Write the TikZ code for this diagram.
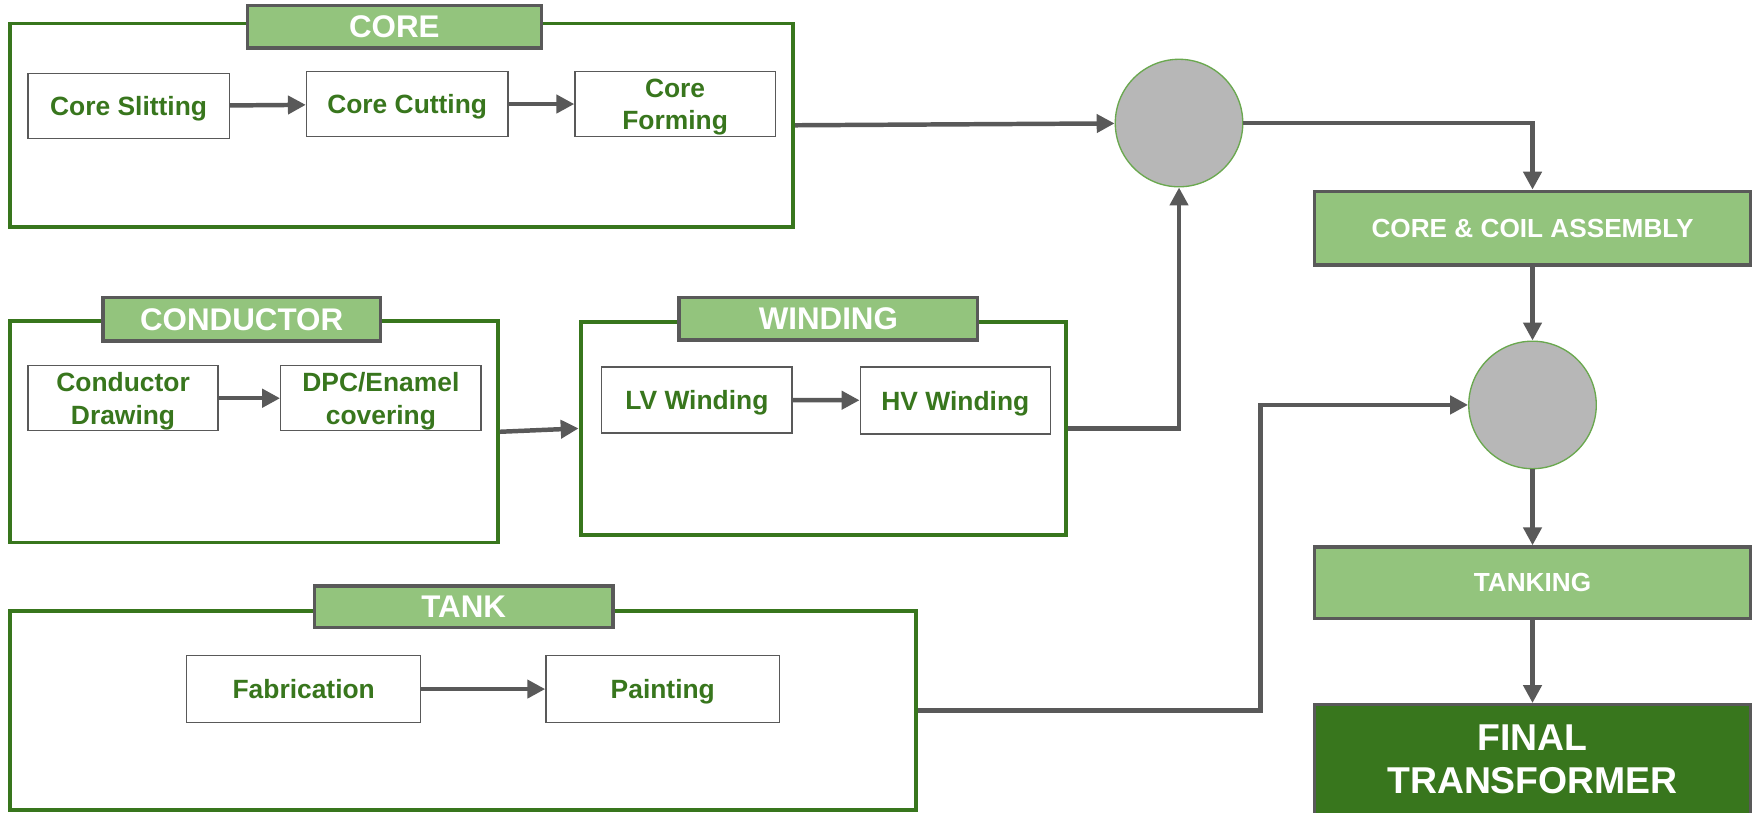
\documentclass[tikz,border=0pt]{standalone}
\usepackage{fontspec}
\setmainfont{Liberation Sans}
\usetikzlibrary{arrows.meta, positioning}
\usepackage{xcolor}
\definecolor{framegreen}{RGB}{56, 118, 29}
\definecolor{titlegreen}{RGB}{147, 196, 125}
\definecolor{linegrey}{RGB}{89, 89, 89}
\definecolor{jointgrey}{RGB}{183, 183, 183}
\definecolor{jointedge}{RGB}{106, 168, 79}

\begin{document}
\begin{tikzpicture}[
    x=0.5pt, y=-0.5pt,
    % 外框样式
    stage/.style={
        rectangle, draw=framegreen, line width=1.75pt, fill=white,
        inner sep=0pt
    },
    % 标题样式
    stagetitle/.style={
        rectangle, draw=linegrey, line width=1.5pt, fill=titlegreen,
        inner sep=0pt, text=white,
        font=\bfseries\fontsize{14}{16}\selectfont
    },
    % 工序样式
    task/.style={
        rectangle, draw=linegrey, line width=0.6pt, fill=white,
        inner sep=0pt, align=center, text=framegreen, text depth=0pt,
        font=\bfseries\fontsize{11.8}{14.5}\selectfont
    },
    % 装配样式
    mainstep/.style={
        rectangle, draw=linegrey, line width=1.5pt, fill=titlegreen,
        minimum width=195pt, minimum height=33pt, inner sep=0pt,
        align=center, text=white,
        font=\bfseries\fontsize{11.7}{14}\selectfont
    },
    % 汇合点
    joint/.style={
        circle, draw=jointedge, line width=0.6pt, fill=jointgrey,
        minimum size=57pt, inner sep=0pt
    },
    % 箭头样式
    arrow/.style={-{Triangle[length=8pt, width=8pt]}, line width=2pt, linegrey},
]

\useasboundingbox (0,0) rectangle (1568,726);

% ==================== 外框 ====================
\node[stage, minimum width=350pt, minimum height=91pt] (coreframe) at (359,112) {};
\node[stage, minimum width=218pt, minimum height=99pt] (condframe) at (227,386) {};
\node[stage, minimum width=217pt, minimum height=95pt] (windframe) at (736,383) {};
\node[stage, minimum width=405pt, minimum height=89pt] (tankframe) at (414,635) {};

% ==================== 标题 ====================
\node[stagetitle, minimum width=131.5pt, minimum height=19pt] (coretitle) at (352.5,24) {CORE};
\node[stagetitle, minimum width=124pt, minimum height=19.5pt] (condtitle) at (216,285.5) {CONDUCTOR};
\node[stagetitle, minimum width=133.5pt, minimum height=19pt] (windtitle) at (740.5,285) {WINDING};
\node[stagetitle, minimum width=133.5pt, minimum height=18.5pt] (tanktitle) at (414.5,542.5) {TANK};

% ==================== 工序 ====================
\node[task, minimum width=90pt, minimum height=29pt] (slitting) at (115,95) {Core Slitting};
\node[task, minimum width=90pt, minimum height=29pt] (cutting) at (364,93) {Core Cutting};
\node[task, minimum width=89.5pt, minimum height=29pt] (forming) at (603.5,93) {Core\\Forming};

\node[task, minimum width=85pt, minimum height=29pt] (drawing) at (110,356) {Conductor\\Drawing};
\node[task, minimum width=89.5pt, minimum height=29pt] (covering) at (340.5,356) {DPC/Enamel\\covering};

\node[task, minimum width=85pt, minimum height=29.5pt] (lv) at (623,357.5) {LV Winding};
\node[task, minimum width=85pt, minimum height=30pt] (hv) at (854,358) {HV Winding};

\node[task, minimum width=104.5pt, minimum height=30pt] (fabrication) at (271.5,616) {Fabrication};
\node[task, minimum width=104.5pt, minimum height=30pt] (painting) at (592.5,616) {Painting};

% ==================== 装配 ====================
\node[joint] (join1) at (1054,110) {};
\node[joint] (join2) at (1370,362) {};

\node[mainstep] (assembly) at (1370,204) {CORE \& COIL ASSEMBLY};
\node[mainstep, minimum height=32pt] (tanking) at (1370,521) {TANKING};
\node[mainstep, fill=framegreen, minimum height=49pt,
      font=\bfseries\fontsize{16.7}{19}\selectfont] (final) at (1370,679) {FINAL\\TRANSFORMER};

% ==================== 箭头 ====================
\draw[arrow] (slitting) -- (cutting);
\draw[arrow] (cutting) -- (forming);
\draw[arrow] (drawing) -- (covering);
\draw[arrow] (lv) -- (hv);
\draw[arrow] (fabrication) -- (painting);

\draw[arrow] (coreframe.east) -- (join1);
\draw[arrow] (condframe.east) -- (windframe.west);
\draw[arrow] (windframe.east) -| (join1.south);
\draw[arrow] (join1.east) -| (assembly.north);
\draw[arrow] (assembly) -- (join2);

% 油箱汇入
\coordinate (tankbend) at (1127,635);
\draw[arrow] (tankframe.east) -- (tankbend) |- (join2.west);

\draw[arrow] (join2) -- (tanking);
\draw[arrow] (tanking) -- (final);

\end{tikzpicture}
\end{document}
